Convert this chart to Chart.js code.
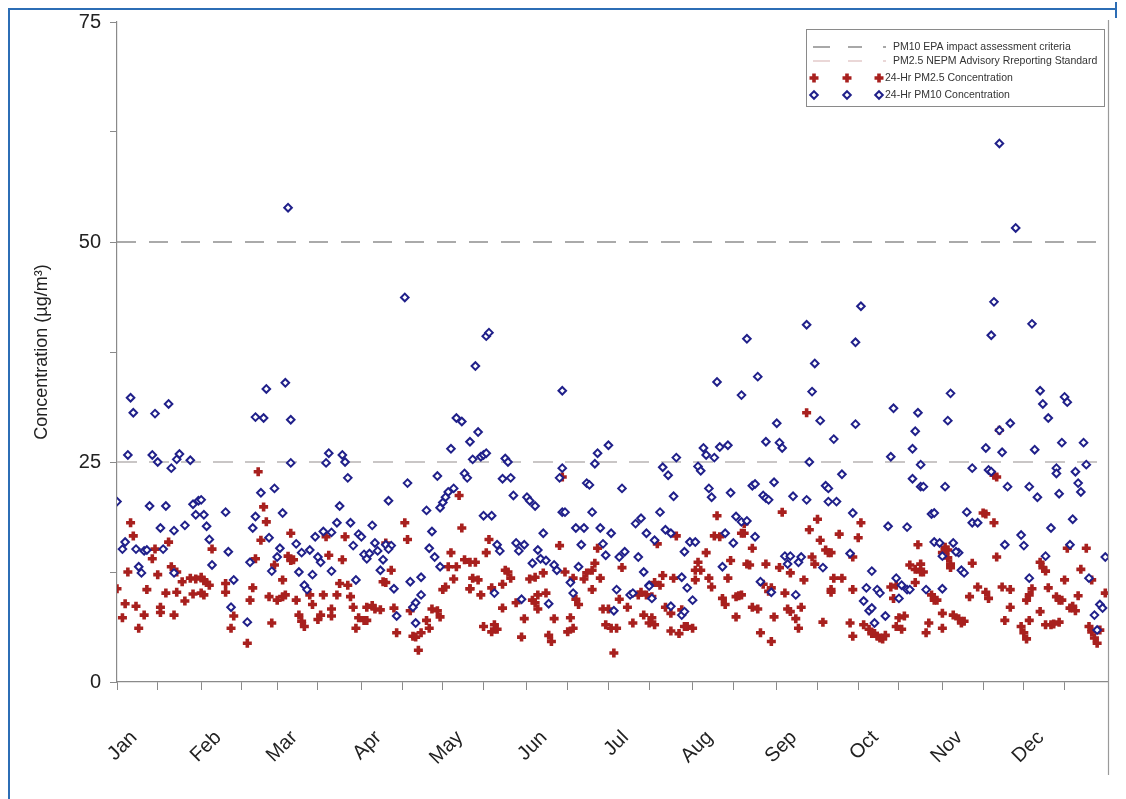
<!DOCTYPE html>
<html><head><meta charset="utf-8">
<script src="https://cdn.jsdelivr.net/npm/chart.js@4.4.0/dist/chart.umd.min.js"></script>
<style>
html,body{margin:0;padding:0;background:#fff;}
#wrap{position:relative;width:1126px;height:799px;overflow:hidden;}
canvas{position:absolute;left:0;top:0;}
#fl{position:absolute;left:8px;top:8px;width:2px;height:800px;background:#2c6db5;}
#ft{position:absolute;left:8px;top:8px;width:1109px;height:2px;background:#2c6db5;}
#fr{position:absolute;left:1115px;top:2px;width:2px;height:16px;background:#2c6db5;}
</style></head>
<body><div id="wrap"><canvas id="c" width="1126" height="799"></canvas><div id="fl"></div><div id="ft"></div><div id="fr"></div></div>
<script>
// Day of year (0 = 1 Jan) and concentration in µg/m³
const months = ['Jan','Feb','Mar','Apr','May','Jun','Jul','Aug','Sep','Oct','Nov','Dec'];
const monthStartDays = [0,31,59,90,120,151,181,212,243,273,304,334];
const yTickValues = [0,12.5,25,37.5,50,62.5,75];
const pm10Criterion = 50;
const pm25Standard = 25;
const seriesLabels = ['PM10 EPA impact assessment criteria','PM2.5 NEPM Advisory Rreporting Standard','24-Hr PM2.5 Concentration','24-Hr PM10 Concentration'];

const pm10Points = [
[5,32.3],[6,30.6],[14,30.5],[19,31.6],[4,25.8],[13,25.8],[15,25.0],[20,24.3],[23,25.9],[22,25.3],[27,25.2],[0,20.5],[12,20.0],[18,20.0],[28,20.2],[30,20.6],[31,20.7],[29,19.0],[16,17.5],[21,17.2],[25,17.8],[3,15.9],[2,15.1],[7,15.1],[10,14.9],[11,15.0],[17,15.1],[8,13.1],[9,12.4],[21,12.4],
[55,33.3],[62,34.0],[51,30.1],[54,30.0],[64,29.8],[64,24.9],[63,53.9],[53,21.5],[58,22.0],[32,19.0],[40,19.3],[33,17.7],[51,18.8],[50,17.5],[61,19.2],[34,16.2],[56,16.4],[41,14.8],[60,15.2],[59,14.2],[49,13.6],[35,13.3],[57,12.6],[43,11.6],[42,8.5],[48,6.8],
[78,26.0],[77,24.9],[83,25.8],[84,25.0],[85,23.2],[82,20.0],[81,18.1],[86,18.1],[94,17.8],[76,17.1],[79,17.0],[73,16.5],[89,16.8],[90,16.5],[66,15.7],[71,15.0],[68,14.7],[87,15.5],[95,15.8],[96,14.9],[74,14.2],[75,13.6],[91,14.5],[92,14.0],[93,14.6],[98,13.9],[79,12.6],[97,12.7],[67,12.5],[72,12.2],[88,11.6],[69,11.0],[70,10.5],
[106,43.7],[125,30.0],[127,29.6],[130,27.3],[123,26.5],[131,25.3],[118,23.4],[107,22.6],[128,23.7],[129,23.2],[124,22.0],[122,21.6],[121,21.0],[120,20.4],[119,19.8],[100,20.6],[114,19.5],[116,17.1],[99,15.6],[101,15.5],[100,15.1],[115,15.2],[117,14.2],[119,13.1],[112,11.9],[108,11.4],[102,10.6],[112,9.9],[110,9.0],[109,8.5],[103,7.5],[110,6.7],
[136,39.3],[137,39.7],[132,35.9],[133,28.4],[134,25.6],[135,25.8],[136,26.0],[143,25.4],[144,25.0],[142,23.1],[145,23.2],[146,21.2],[151,21.0],[152,20.6],[154,20.0],[164,24.3],[163,23.2],[135,18.9],[138,18.9],[164,19.3],[157,16.9],[140,15.6],[141,14.9],[147,15.8],[150,15.6],[148,14.9],[155,15.0],[156,14.0],[153,13.5],[158,13.8],[161,13.3],[162,12.7],[139,10.1],[149,9.4],[159,8.9],[164,33.1],
[181,26.9],[177,26.0],[176,24.8],[173,22.6],[174,22.4],[186,22.0],[165,19.3],[175,19.3],[169,17.5],[172,17.5],[178,17.5],[182,16.9],[191,18.0],[193,18.6],[195,16.9],[171,15.6],[179,15.7],[180,14.4],[185,14.2],[187,14.8],[192,14.2],[170,13.1],[194,12.5],[167,11.3],[168,10.1],[184,10.5],[196,11.0],[189,9.9],[190,10.1],[183,8.1],
[221,34.1],[230,32.6],[216,26.6],[217,25.8],[222,26.7],[225,26.9],[220,25.5],[206,25.5],[201,24.4],[203,23.5],[214,24.5],[215,24.0],[218,22.0],[219,21.0],[205,21.1],[226,21.5],[200,19.3],[202,17.3],[204,16.9],[228,18.8],[230,18.2],[232,18.3],[224,16.9],[198,16.1],[211,15.9],[213,15.9],[209,14.8],[227,15.8],[223,13.1],[208,11.9],[196,10.9],[197,9.5],[210,10.7],[212,9.3],[204,8.6],[208,7.6],[209,8.0],
[257,36.2],[236,34.7],[256,33.0],[259,29.7],[243,29.4],[244,27.2],[245,26.6],[239,27.3],[255,25.0],[234,22.3],[235,22.5],[242,22.7],[238,21.2],[239,20.9],[240,20.7],[249,21.1],[254,20.7],[261,22.3],[262,22.0],[262,20.5],[235,16.5],[246,14.3],[248,14.3],[247,13.4],[251,13.6],[252,14.2],[260,13.0],[237,11.4],[241,10.2],[250,9.9],[232,39.0],[254,40.6],
[286,31.1],[295,30.6],[294,28.5],[272,29.3],[264,27.6],[293,26.5],[285,25.6],[296,24.7],[267,23.6],[293,23.1],[296,22.2],[265,20.5],[271,19.2],[284,17.7],[291,17.6],[270,14.6],[278,12.6],[287,11.8],[289,11.0],[291,10.5],[292,10.5],[276,10.7],[280,10.5],[281,10.1],[288,9.5],[275,9.2],[277,8.1],[278,8.4],[283,7.5],[279,6.7],[274,42.7],[272,38.6],
[307,32.8],[306,29.7],[325,28.6],[320,26.6],[326,26.1],[329,29.4],[315,24.3],[321,24.1],[322,23.9],[297,22.2],[305,22.2],[328,22.2],[300,19.1],[301,19.2],[313,19.3],[315,18.1],[317,18.1],[301,15.9],[303,15.8],[308,15.8],[310,14.7],[309,14.8],[304,14.3],[311,12.7],[312,12.4],[327,15.6],[298,10.5],[304,10.6],[325,61.2],[331,51.6],[323,43.2],[322,39.4],
[340,33.1],[341,31.6],[349,32.4],[350,31.8],[343,30.0],[338,26.4],[348,27.2],[356,27.2],[357,24.7],[346,24.3],[346,23.7],[353,23.9],[354,22.6],[355,21.6],[336,22.2],[339,21.0],[347,21.4],[352,18.5],[344,17.5],[333,16.7],[334,15.5],[351,15.6],[342,14.3],[364,14.2],[336,11.8],[358,11.8],[362,8.8],[363,8.4],[360,7.6],[361,5.9],[337,40.7]
];

const pm25Points = [
[5,18.1],[6,16.6],[19,15.9],[14,15.1],[13,14.0],[4,12.5],[15,12.2],[20,13.1],[22,12.5],[24,11.4],[27,11.8],[29,11.7],[31,11.9],[0,10.6],[11,10.5],[18,10.1],[22,10.2],[28,10.0],[3,8.9],[7,8.6],[16,8.5],[16,7.9],[25,9.2],[2,7.3],[10,7.6],[21,7.6],[8,6.1],[31,10.1],
[52,23.9],[54,19.9],[55,18.2],[64,16.9],[53,16.1],[35,15.1],[63,14.3],[64,13.8],[51,14.0],[58,13.3],[32,11.5],[33,11.3],[34,11.0],[40,11.2],[40,10.2],[61,11.6],[50,10.7],[32,9.9],[56,9.7],[59,9.3],[61,9.7],[62,9.9],[49,9.3],[43,7.5],[42,6.1],[57,6.7],[48,4.4],
[77,16.5],[84,16.5],[78,14.4],[65,13.9],[83,13.9],[82,11.2],[85,11.0],[98,11.4],[66,9.3],[71,9.9],[72,8.8],[76,9.9],[81,9.9],[86,9.7],[87,8.5],[92,8.5],[94,8.7],[95,8.3],[97,8.2],[67,7.6],[68,6.9],[69,6.3],[74,7.1],[75,7.6],[79,8.3],[79,7.5],[89,7.3],[91,7.0],[92,7.0],[88,6.1],
[106,18.1],[107,16.2],[126,21.2],[127,17.5],[99,15.8],[100,15.4],[123,14.7],[101,12.7],[128,13.9],[130,13.6],[122,13.1],[125,13.1],[99,11.3],[124,11.7],[120,10.5],[121,10.8],[130,10.6],[102,8.4],[108,8.1],[116,8.3],[118,8.1],[119,7.4],[114,7.0],[115,6.1],[112,5.6],[110,5.1],[109,5.2],[111,3.6],[103,5.6],
[137,16.2],[163,15.5],[136,14.7],[132,13.6],[131,11.8],[133,11.6],[143,12.7],[144,12.5],[145,11.8],[142,11.1],[152,11.7],[154,11.9],[157,12.4],[130,10.6],[134,9.9],[138,10.7],[155,9.9],[158,10.1],[147,9.0],[153,9.3],[154,9.0],[142,8.4],[155,8.3],[150,7.2],[161,7.2],[135,6.3],[139,6.5],[140,6.0],[138,5.7],[149,5.1],[159,5.3],[160,4.6],
[164,23.3],[177,15.2],[176,13.5],[175,12.7],[173,12.4],[172,11.7],[165,12.5],[168,11.8],[178,11.8],[186,13.0],[175,10.5],[169,9.4],[170,8.8],[185,9.4],[192,9.9],[193,10.2],[195,9.9],[179,8.3],[181,8.3],[188,8.5],[167,7.3],[168,6.1],[166,5.7],[180,6.5],[182,6.1],[184,6.1],[190,6.7],[194,7.6],[196,6.7],[183,3.3],
[221,18.9],[220,16.6],[222,16.5],[230,16.9],[199,15.7],[206,16.6],[217,14.7],[214,13.6],[213,12.7],[215,12.7],[226,13.8],[201,12.1],[205,11.8],[198,11.3],[200,11.0],[213,11.6],[218,11.8],[219,10.8],[225,11.8],[197,9.7],[202,8.5],[204,7.8],[223,9.5],[224,8.8],[228,9.7],[229,9.8],[208,8.2],[210,6.3],[209,6.3],[212,6.1],[197,7.3],[198,6.5],[204,5.8],[207,5.5],[228,7.4],
[254,30.6],[245,19.3],[258,18.5],[231,18.0],[231,16.9],[255,17.3],[259,16.1],[234,15.2],[261,15.0],[262,14.7],[232,13.4],[233,13.3],[239,13.4],[244,13.0],[256,14.2],[257,13.4],[248,12.4],[238,11.1],[246,10.1],[240,10.3],[241,10.7],[253,11.6],[230,9.9],[263,10.5],[234,8.5],[236,8.3],[247,8.3],[248,8.0],[252,8.5],[242,7.4],[250,7.2],[251,6.1],[260,6.8],[237,5.6],[241,4.6],
[274,18.1],[266,16.8],[273,16.4],[295,15.6],[263,14.7],[271,14.2],[292,13.3],[294,12.8],[296,12.5],[264,11.8],[267,11.8],[294,11.3],[285,10.8],[286,9.5],[287,11.0],[263,10.2],[271,10.5],[270,6.7],[271,5.2],[275,6.5],[277,6.0],[278,5.5],[279,5.5],[281,5.0],[282,4.9],[280,5.2],[283,5.3],[288,7.3],[290,7.5],[289,6.0],[287,6.3],
[325,28.6],[323,23.5],[324,23.3],[319,19.2],[320,19.1],[323,18.1],[305,15.3],[306,15.0],[306,14.1],[307,13.4],[307,13.0],[304,14.7],[324,14.2],[296,13.4],[297,12.5],[315,13.5],[317,10.8],[320,10.2],[321,9.5],[326,10.8],[329,10.5],[300,9.9],[301,9.3],[302,9.3],[314,9.7],[329,8.5],[304,7.8],[308,7.6],[310,7.2],[311,6.7],[312,6.9],[327,7.0],[299,6.7],[304,6.1],[298,5.6],
[350,15.2],[357,15.2],[340,13.6],[341,13.0],[342,12.6],[355,12.8],[349,11.6],[359,11.6],[343,10.7],[346,9.7],[347,9.3],[348,9.3],[337,10.6],[336,9.9],[335,9.3],[354,9.8],[364,10.1],[352,8.6],[353,8.1],[351,8.4],[340,8.0],[333,6.3],[334,5.6],[335,4.9],[336,7.0],[342,6.5],[344,6.5],[345,6.6],[347,6.8],[358,6.3],[359,5.7],[360,5.0],[361,4.4],[362,5.9]
];

const FONT = '"Liberation Sans", Arial, sans-serif';
const toXY = arr => arr.map(p => ({x: p[0], y: p[1]}));

const decorPlugin = {
  id: 'decor',
  afterDraw(chart) {
    const ctx = chart.ctx;
    const area = chart.chartArea;
    ctx.save();
    // right frame line
    ctx.strokeStyle = '#9a9a9a';
    ctx.lineWidth = 1.2;
    ctx.beginPath(); ctx.moveTo(area.right + 0.5, 20); ctx.lineTo(area.right + 0.5, 775); ctx.stroke();
    // legend box
    const bx = 806, by = 29, bw = 298, bh = 77;
    ctx.fillStyle = '#fff';
    ctx.fillRect(bx, by, bw, bh);
    ctx.strokeStyle = '#8a8a8a';
    ctx.lineWidth = 1;
    ctx.strokeRect(bx + 0.5, by + 0.5, bw, bh);
    const ds = chart.data.datasets;
    const rows = [47, 61, 78, 95];
    ctx.font = '10.5px ' + FONT;
    ctx.textBaseline = 'middle';
    [0, 1].forEach(i => {
      const y = rows[i];
      ctx.strokeStyle = i === 0 ? '#6e6e6e' : '#dcbcbc';
      ctx.lineWidth = 1.2;
      [[813, 830], [848, 862], [883, 886]].forEach(s => {
        ctx.beginPath(); ctx.moveTo(s[0], y); ctx.lineTo(s[1], y); ctx.stroke();
      });
      ctx.fillStyle = '#333';
      ctx.fillText(ds[i].label, 893, y);
    });
    [2, 3].forEach(i => {
      const y = rows[i];
      const r = ds[i].pointRadius;
      [814, 847, 879].forEach(x => {
        ctx.strokeStyle = ds[i].borderColor; ctx.fillStyle = ds[i].backgroundColor;
        ctx.lineWidth = ds[i].borderWidth;
        ctx.beginPath();
        if (ds[i].pointStyle === 'cross') {
          ctx.moveTo(x - r, y); ctx.lineTo(x + r, y); ctx.moveTo(x, y - r); ctx.lineTo(x, y + r);
          ctx.stroke();
        } else {
          ctx.moveTo(x, y - r); ctx.lineTo(x + r, y); ctx.lineTo(x, y + r); ctx.lineTo(x - r, y); ctx.closePath();
          ctx.fill(); ctx.stroke();
        }
      });
      ctx.fillStyle = '#333';
      ctx.fillText(ds[i].label, 885, y);
    });
    ctx.restore();
  }
};

new Chart(document.getElementById('c'), {
  type: 'scatter',
  data: {
    datasets: [
      { type: 'line', label: seriesLabels[0], data: [{x: 0, y: pm10Criterion}, {x: 365, y: pm10Criterion}],
        borderColor: '#8f8f8f', borderWidth: 1.3, borderDash: [19, 13], pointRadius: 0, order: 4 },
      { type: 'line', label: seriesLabels[1], data: [{x: 0, y: pm25Standard}, {x: 365, y: pm25Standard}],
        borderColor: '#c9c6c6', borderWidth: 2.2, borderDash: [20, 12], pointRadius: 0, order: 3 },
      { label: seriesLabels[2], data: toXY(pm25Points), pointStyle: 'cross', pointRadius: 4.5,
        borderWidth: 3.6, borderColor: '#a8201e', backgroundColor: '#a8201e', order: 2 },
      { label: seriesLabels[3], data: toXY(pm10Points), pointStyle: 'rectRot', pointRadius: 3.8,
        borderWidth: 2, borderColor: '#20208a', backgroundColor: '#ffffff', order: 1 }
    ]
  },
  options: {
    responsive: false,
    animation: false,
    events: [],
    layout: { padding: { left: 0, right: 18, top: 22, bottom: 0 } },
    plugins: { legend: { display: false }, tooltip: { enabled: false } },
    scales: {
      x: {
        type: 'linear', min: 0, max: 365,
        afterFit: s => { s.height = 117; },
        afterBuildTicks: s => {
          const t = [];
          monthStartDays.forEach(d => { t.push({value: d}); t.push({value: d + 15}); });
          s.ticks = t.filter(o => o.value <= 365);
        },
        grid: { drawOnChartArea: false, tickLength: 8, color: '#8a8a8a', tickColor: '#8a8a8a' },
        border: { color: '#8a8a8a', width: 1.2 },
        ticks: {
          autoSkip: false, minRotation: 45, maxRotation: 45, padding: 36, labelOffset: 17,
          color: '#222', font: { family: FONT, size: 20 },
          callback: v => { const i = monthStartDays.indexOf(v); return i >= 0 ? months[i] : ''; }
        }
      },
      y: {
        min: 0, max: 75,
        afterFit: s => { s.width = 117; },
        afterBuildTicks: s => { s.ticks = yTickValues.map(v => ({value: v})); },
        grid: { drawOnChartArea: false, tickLength: 7, color: '#8a8a8a', tickColor: '#8a8a8a' },
        border: { color: '#8a8a8a', width: 1.2 },
        title: { display: true, text: 'Concentration (µg/m³)', color: '#222', font: { family: FONT, size: 18 }, padding: { top: 31, bottom: 0 } },
        ticks: {
          padding: 9, color: '#222', font: { family: FONT, size: 20 },
          callback: v => (v % 25 === 0 ? String(v) : '')
        }
      }
    }
  },
  plugins: [decorPlugin]
});
</script>
</body></html>
